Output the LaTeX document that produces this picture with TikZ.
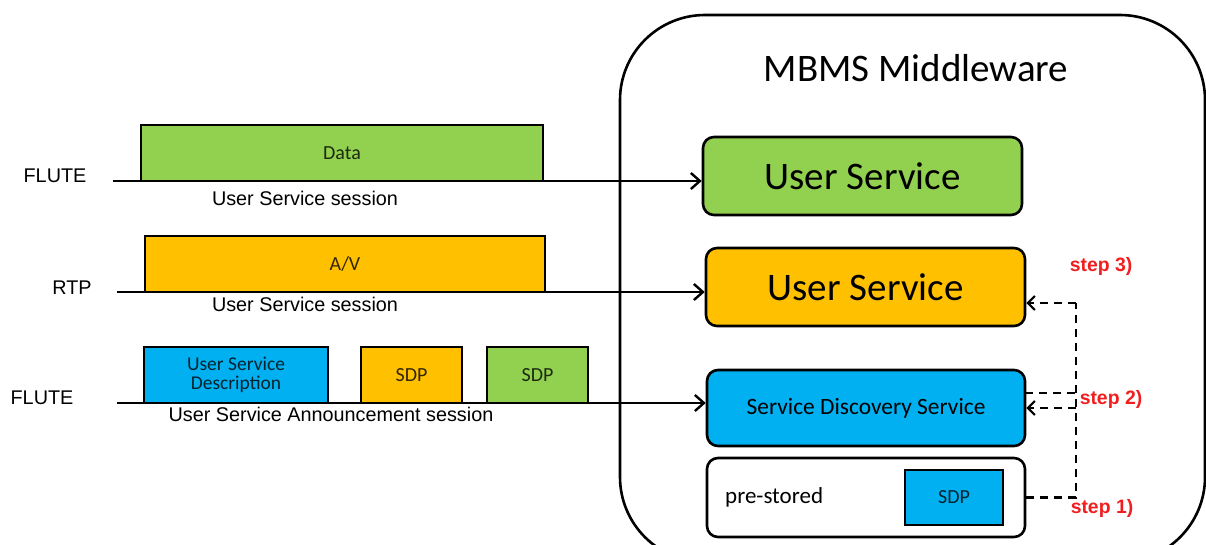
\documentclass[tikz,border=0pt]{standalone}
\usepackage{fontspec}
\setmainfont{Carlito}
\newfontfamily\arialf{Liberation Sans}
\usetikzlibrary{arrows.meta}
\definecolor{grn}{RGB}{146,208,80}
\definecolor{org}{RGB}{255,192,0}
\definecolor{blu}{RGB}{0,176,240}
\definecolor{stepred}{RGB}{240,30,30}
\newcommand{\fs}[1]{\fontsize{#1}{#1}\selectfont}

\tikzset{
  svcbox/.style={draw, line width=2.6pt, rounded corners=11pt, inner sep=0pt},
  pkt/.style={draw, line width=2.4pt, inner sep=0pt, minimum height=56, font=\fs{20}, text opacity=0.8},
  lbl/.style={font=\arialf\fs{19.8}, inner sep=0pt},
  steplbl/.style={font=\arialf\bfseries\fs{19.4}, text=stepred, inner sep=0pt},
  feed/.style={line width=2.4pt, -{Straight Barb[length=9pt,width=16pt,line width=2.4pt]}},
  dsh/.style={line width=2.2pt, dash pattern=on 8pt off 6pt},
}

\begin{document}
\begin{tikzpicture}[x=1pt, y=-1pt]
  \useasboundingbox (0,0) rectangle (1206,544);
  % middleware frame, runs off the lower edge
  \begin{scope}
    \clip (0,0) rectangle (1206,544);
    \draw[line width=2.6pt, rounded corners=85pt] (620,15) rectangle (1205,562);
  \end{scope}
  \node[font=\fs{39}, inner sep=0pt] (mw) at (916,68) {MBMS Middleware};

  % services inside the middleware
  \node[svcbox, fill=grn, minimum width=319, minimum height=78, font=\fs{39}] (usg) at (862.5,176) {User Service};
  \node[svcbox, fill=org, minimum width=319, minimum height=78, font=\fs{39}] (uso) at (865.5,287) {User Service};
  \node[svcbox, fill=blu, minimum width=318, minimum height=76, font=\fs{23.4}] (sds) at (866,408) {Service Discovery Service};
  \node[svcbox, fill=white, minimum width=318, minimum height=79] (pre) at (866,497.5) {};
  \node[font=\fs{23}, anchor=west, inner sep=0pt] (prelbl) at (725,497) {pre-stored};
  \node[pkt, fill=blu, minimum width=98, minimum height=55] (sdpin) at (954,497.5) {SDP};

  % sessions
  \node[pkt, fill=grn, minimum width=402] (data) at (342,153) {Data};
  \node[pkt, fill=org, minimum width=400] (av) at (345,264) {A/V};
  \node[pkt, fill=blu, minimum width=184, align=center, font=\fs{19.5}] (usd) at (236,375) {User Service\\Description};
  \node[pkt, fill=org, minimum width=101] (sdpo) at (411.5,375) {SDP};
  \node[pkt, fill=grn, minimum width=101] (sdpg) at (537.5,375) {SDP};

  \node[lbl] (flute1) at (55,176) {FLUTE};
  \node[lbl] (rtp) at (72,288) {RTP};
  \node[lbl] (flute2) at (42,398) {FLUTE};
  \node[lbl] (ses1) at (305,198) {User Service session};
  \node[lbl] (ses2) at (305,304) {User Service session};
  \node[lbl] (ses3) at (331,414) {User Service Announcement session};

  \coordinate (s1) at (113,181);
  \coordinate (s2) at (117,292);
  \coordinate (s3) at (117,403);
  \draw[feed] (s1) -- (s1 -| usg.west);
  \draw[feed] (s2) -- (s2 -| uso.west);
  \draw[feed] (s3) -- (s3 -| sds.west);

  % discovery steps
  \coordinate (bus) at (1076,303);
  \coordinate (sdsout) at (1025,393);
  \draw[dsh] (pre.east) -- (pre.east -| bus) -- (bus);
  \draw[dsh, -{Straight Barb[length=7pt,width=14pt,line width=2.2pt]}] (bus) -- (bus -| uso.east);
  \draw[dsh] (sdsout) -- (sdsout -| bus);
  \draw[dsh, -{Straight Barb[length=7pt,width=14pt,line width=2.2pt]}] (sds.east -| bus) -- (sds.east);
  \node[steplbl] (st3) at (1101,266) {step 3)};
  \node[steplbl] (st2) at (1111,399) {step 2)};
  \node[steplbl] (st1) at (1102,508) {step 1)};
\end{tikzpicture}
\end{document}
